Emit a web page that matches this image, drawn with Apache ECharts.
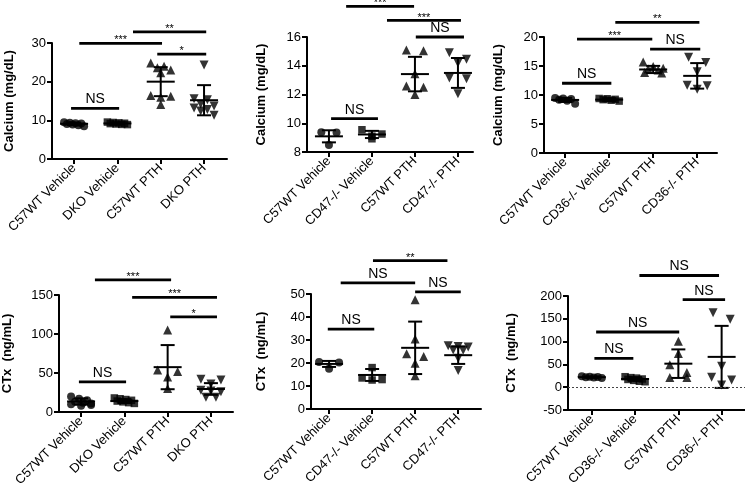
<!DOCTYPE html>
<html><head><meta charset="utf-8">
<script src="https://cdn.jsdelivr.net/npm/echarts@6/dist/echarts.min.js"></script>
<style>html,body{margin:0;padding:0;background:#fff}#c{width:745px;height:491px}</style>
</head><body><div id="c"></div>
<script>
// ---------- categories ----------
const catsDKO  = ['C57WT Vehicle', 'DKO Vehicle', 'C57WT PTH', 'DKO PTH'];
const catsCD47 = ['C57WT Vehicle', 'CD47-/- Vehicle', 'C57WT PTH', 'CD47-/- PTH'];
const catsCD36 = ['C57WT Vehicle', 'CD36-/- Vehicle', 'C57WT PTH', 'CD36-/- PTH'];

// ---------- Calcium, DKO ----------
const calDKOPoints = [
  [9.5, 9.35, 9.25, 9.15, 9.05, 8.9, 8.7, 8.5],
  [9.55, 9.45, 9.35, 9.25, 9.15, 9.05, 8.95, 8.9],
  [24.8, 24.0, 23.6, 23.0, 22.3, 16.4, 16.2, 16.0, 14.1],
  [24.3, 15.6, 15.3, 14.2, 13.7, 13.2, 12.8, 12.4, 11.3]
];
const calDKOMean = [9.1, 9.2, 20.0, 15.2];
const calDKOSd   = [0.3, 0.25, 3.75, 3.9];
const calDKOSig  = [[0.12, 2.03, 29.9, '***'], [1.36, 3.05, 32.9, '**'], [1.92, 3.05, 27.1, '*'], [-0.07, 1.04, 13.1, 'NS']];
const calDKOTicks = [0, 10, 20, 30];

// ---------- Calcium, CD47 ----------
const calCD47Points = [
  [9.35, 9.38, 8.48],
  [9.55, 9.25, 9.1, 8.92],
  [15.1, 15.05, 13.45, 12.6, 12.5, 12.0],
  [14.9, 14.45, 14.2, 13.15, 13.1, 12.05]
];
const calCD47Mean = [9.09, 9.22, 13.42, 13.5];
const calCD47Sd   = [0.42, 0.25, 1.2, 1.04];
const calCD47Sig  = [[0.40, 1.98, 18.13, '***'], [1.35, 3.07, 17.15, '***'], [2.02, 3.14, 16.0, 'NS'], [0.05, 1.14, 10.32, 'NS']];
const calCD47Ticks = [8, 10, 12, 14, 16];

// ---------- Calcium, CD36 ----------
const calCD36Points = [
  [9.5, 9.4, 9.3, 9.2, 9.0, 8.5],
  [9.4, 9.35, 9.25, 9.2, 9.1, 8.95],
  [15.7, 14.9, 14.6, 14.5, 14.3, 13.9, 13.8],
  [16.5, 15.6, 14.0, 11.7, 11.6, 11.0]
];
const calCD36Mean = [9.15, 9.2, 14.4, 13.3];
const calCD36Sd   = [0.35, 0.25, 0.62, 2.2];
const calCD36Sig  = [[1.14, 3.05, 22.53, '**'], [0.27, 1.98, 19.65, '***'], [1.93, 3.07, 17.92, 'NS'], [-0.07, 1.05, 12.03, 'NS']];
const calCD36Ticks = [0, 5, 10, 15, 20];

// ---------- CTx, DKO ----------
const ctxDKOPoints = [
  [20, 17, 15, 13, 12, 11, 10, 9, 8],
  [18, 17, 16, 15, 14, 13, 12, 11],
  [105, 54, 52, 45, 30],
  [42, 41, 36, 28, 27, 26, 19, 19]
];
const ctxDKOMean = [13.5, 14, 57.5, 29.5];
const ctxDKOSd   = [4, 2.5, 28.3, 7.5];
const ctxDKOSig  = [[0.32, 2.08, 169.3, '***'], [1.18, 3.14, 147, '***'], [2.06, 3.14, 122, '*'], [-0.05, 1.04, 38.6, 'NS']];
const ctxDKOTicks = [0, 50, 100, 150];

// ---------- CTx, CD47 ----------
const ctxCD47Points = [
  [20.4, 20.2, 17.5],
  [18.0, 13.5, 12.8, 12.6],
  [47.5, 30.4, 24.0, 22.8, 19.9, 14.5],
  [27.5, 27.2, 27.0, 25.7, 25.5, 22.1, 16.7]
];
const ctxCD47Mean = [19.6, 14.8, 26.6, 23.4];
const ctxCD47Sd   = [1.3, 2.6, 11.4, 3.8];
const ctxCD47Sig  = [[1.02, 2.75, 64.5, '**'], [0.27, 2.0, 54.8, 'NS'], [2.0, 3.06, 50.9, 'NS'], [-0.03, 1.05, 34.7, 'NS']];
const ctxCD47Ticks = [0, 10, 20, 30, 40, 50];

// ---------- CTx, CD36 ----------
const ctxCD36Points = [
  [24, 23, 22.5, 22, 21, 20],
  [23, 21, 20, 18, 17, 15, 13, 12],
  [101, 74, 49, 32, 21, 21],
  [163, 149, 46, 22, 16, 5]
];
const ctxCD36Mean = [22, 18, 51.6, 66.5];
const ctxCD36Sd   = [1.5, 4, 31.3, 68];
const ctxCD36Sig  = [[1.10, 2.94, 245, 'NS'], [2.10, 3.08, 192, 'NS'], [0.10, 2.02, 121, 'NS'], [0.06, 0.96, 63, 'NS']];
const ctxCD36Ticks = [-50, 0, 50, 100, 150, 200];

// ---------- layout / styles ----------
const FONT = "'Liberation Sans', Arial, Helvetica, sans-serif";
const panels = [
  {cats: catsDKO,  pts: calDKOPoints,  mean: calDKOMean,  sd: calDKOSd,  sig: calDKOSig,  ticks: calDKOTicks,  name: 'Calcium (mg/dL)', gap: 36,
   box: {left: 52, top: 43, width: 175, height: 116}, xr: [-0.51, 3.53]},
  {cats: catsCD47, pts: calCD47Points, mean: calCD47Mean, sd: calCD47Sd, sig: calCD47Sig, ticks: calCD47Ticks, name: 'Calcium (mg/dL)', gap: 39,
   box: {left: 307, top: 37, width: 166, height: 115}, xr: [-0.51, 3.35]},
  {cats: catsCD36, pts: calCD36Points, mean: calCD36Mean, sd: calCD36Sd, sig: calCD36Sig, ticks: calCD36Ticks, name: 'Calcium (mg/dL)', gap: 39,
   box: {left: 544, top: 37, width: 173, height: 116}, xr: [-0.48, 3.45]},
  {cats: catsDKO,  pts: ctxDKOPoints,  mean: ctxDKOMean,  sd: ctxDKOSd,  sig: ctxDKOSig,  ticks: ctxDKOTicks,  name: 'CTx  (ng/mL)', gap: 45,
   box: {left: 59, top: 295, width: 174, height: 117}, xr: [-0.51, 3.51]},
  {cats: catsCD47, pts: ctxCD47Points, mean: ctxCD47Mean, sd: ctxCD47Sd, sig: ctxCD47Sig, ticks: ctxCD47Ticks, name: 'CTx  (ng/mL)', gap: 43,
   box: {left: 311, top: 294, width: 170, height: 115}, xr: [-0.42, 3.53]},
  {cats: catsCD36, pts: ctxCD36Points, mean: ctxCD36Mean, sd: ctxCD36Sd, sig: ctxCD36Sig, ticks: ctxCD36Ticks, name: 'CTx  (ng/mL)', gap: 50,
   box: {left: 568, top: 296, width: 177, height: 114}, xr: [-0.55, 3.54], zeroLine: true}
];
const symbols = ['circle', 'rect', 'triangle', 'path://M0,0L10,0L5,9Z'];
const sizes = [8, 7.5, 9, 9];

// row-based scatter spread: points of similar height share a row and are spread sideways
function spread(values, pyu, pxu, size) {
  const order = values.map((v, i) => i).sort((a, b) => values[b] - values[a]);
  const off = new Array(values.length).fill(0);
  let i = 0;
  while (i < order.length) {
    const start = values[order[i]] * pyu;
    const row = [order[i]];
    let j = i + 1;
    while (j < order.length && start - values[order[j]] * pyu < size * 0.95) { row.push(order[j]); j++; }
    const n = row.length;
    if (n > 1) {
      const step = Math.min(size * 1.9, 20 / (n - 1));
      const half = Math.ceil(n / 2);
      row.forEach((idx, r) => {
        const pos = r < half ? r * 2 : (r - half) * 2 + 1; // zig-zag so a row reads as a blob
        off[idx] = (pos - (n - 1) / 2) * step;
      });
    }
    i = j;
  }
  return off.map(o => o / pxu);
}

const grid = [], xAxis = [], yAxis = [], series = [];
panels.forEach((P, gi) => {
  const yMin = P.ticks[0], yMax = P.ticks[P.ticks.length - 1];
  const interval = P.ticks[1] - P.ticks[0];
  grid.push(Object.assign({containLabel: false, outerBoundsMode: 'none'}, P.box));
  xAxis.push({
    type: 'value', gridIndex: gi, min: P.xr[0], max: P.xr[1],
    axisLine: {show: true, onZero: false, lineStyle: {color: '#000', width: 2}},
    axisTick: {show: true, length: 5, lineStyle: {color: '#000', width: 2}, customValues: [0, 1, 2, 3]},
    axisLabel: {show: true, customValues: [0, 1, 2, 3], rotate: 45, margin: 7, color: '#000', fontSize: 13, fontFamily: FONT,
      formatter: v => P.cats[Math.round(v)]},
    splitLine: {show: false}
  });
  yAxis.push({
    type: 'value', gridIndex: gi, min: yMin, max: yMax, interval: interval,
    name: P.name, nameLocation: 'middle', nameGap: P.gap,
    nameTextStyle: {color: '#000', fontSize: 13, fontWeight: 'bold', fontFamily: FONT},
    axisLine: {show: true, onZero: false, lineStyle: {color: '#000', width: 2}},
    axisTick: {show: true, length: 5, lineStyle: {color: '#000', width: 2}},
    axisLabel: {color: '#000', fontSize: 13, margin: 6, fontFamily: FONT},
    splitLine: {show: false}
  });
  const pyu = P.box.height / (yMax - yMin);
  const pxu = P.box.width / (P.xr[1] - P.xr[0]);
  P.pts.forEach((vals, k) => {
    const jit = spread(vals, pyu, pxu, sizes[k]);
    const s = {
      type: 'scatter', xAxisIndex: gi, yAxisIndex: gi,
      symbol: symbols[k], symbolSize: sizes[k],
      itemStyle: {color: '#000'}, silent: true, z: 2,
      data: vals.map((v, j) => [k + jit[j], v])
    };
    if (P.zeroLine && k === 0) {
      s.markLine = {silent: true, symbol: 'none', label: {show: false},
        lineStyle: {color: '#444', type: [2, 2], width: 1}, data: [{yAxis: 0}]};
    }
    series.push(s);
  });
  // mean ± SD
  series.push({
    type: 'custom', xAxisIndex: gi, yAxisIndex: gi, z: 3, silent: true,
    data: P.mean.map((m, k) => [k, m, P.sd[k]]),
    encode: {x: 0, y: 1},
    renderItem: (params, api) => {
      const x = api.value(0), m = api.value(1), sd = api.value(2);
      const c = api.coord([x, m]), t = api.coord([x, m + sd]), b = api.coord([x, m - sd]);
      const st = {stroke: '#000', lineWidth: 2};
      return {type: 'group', children: [
        {type: 'line', shape: {x1: c[0] - 14, y1: c[1], x2: c[0] + 14, y2: c[1]}, style: st},
        {type: 'line', shape: {x1: c[0], y1: t[1], x2: c[0], y2: b[1]}, style: st},
        {type: 'line', shape: {x1: c[0] - 7, y1: t[1], x2: c[0] + 7, y2: t[1]}, style: st},
        {type: 'line', shape: {x1: c[0] - 7, y1: b[1], x2: c[0] + 7, y2: b[1]}, style: st}
      ]};
    }
  });
  // significance bars
  series.push({
    type: 'custom', xAxisIndex: gi, yAxisIndex: gi, z: 4, silent: true, clip: false,
    data: P.sig.map(s => [s[0], s[2]]),
    encode: {x: 0, y: 1},
    renderItem: (params, api) => {
      const s = P.sig[params.dataIndex];
      const a = api.coord([s[0], s[2]]), b = api.coord([s[1], s[2]]);
      const ns = s[3] === 'NS';
      return {type: 'group', children: [
        {type: 'line', shape: {x1: a[0], y1: a[1], x2: b[0], y2: b[1]}, style: {stroke: '#000', lineWidth: 2.8}},
        {type: 'text', x: (a[0] + b[0]) / 2, y: a[1] - (ns ? 9 : 3),
          style: {text: s[3], fill: '#000', fontSize: ns ? 14 : 11, fontFamily: FONT, align: 'center', verticalAlign: 'middle'}}
      ]};
    }
  });
});

const chart = echarts.init(document.getElementById('c'), null, {renderer: 'canvas'});
chart.setOption({animation: false, backgroundColor: '#fff', grid, xAxis, yAxis, series});
</script></body></html>
